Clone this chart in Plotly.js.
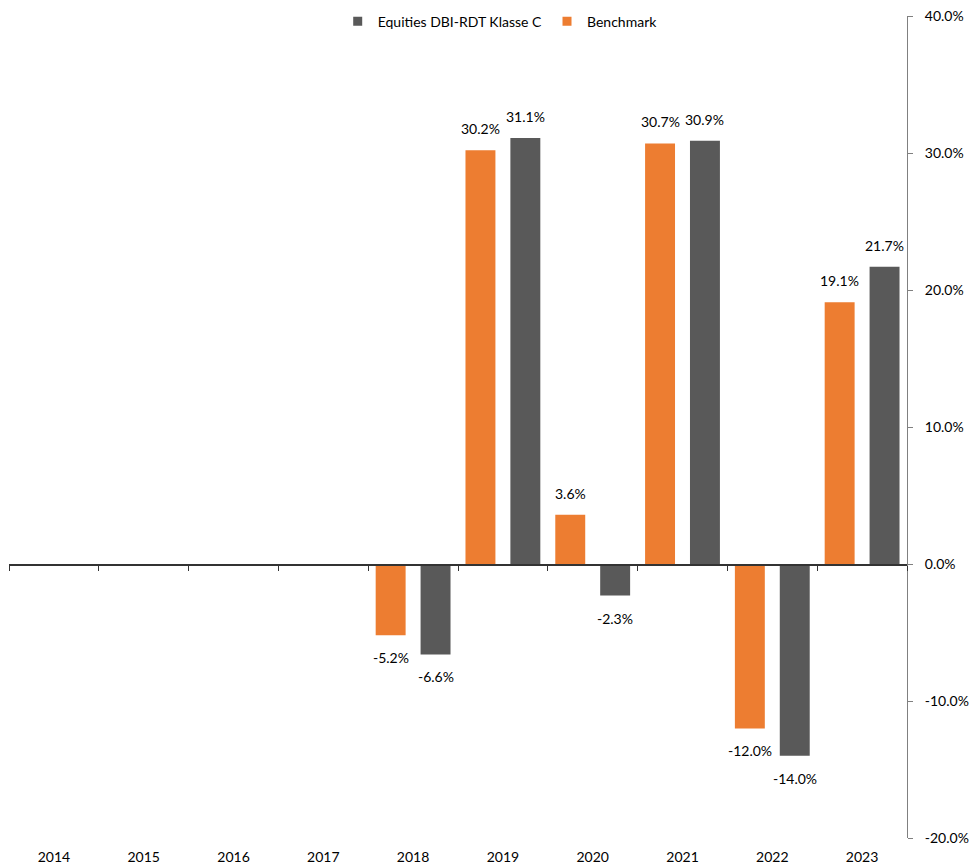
<!DOCTYPE html>
<html>
<head>
<meta charset="utf-8">
<script src="https://cdn.plot.ly/plotly-3.0.1.min.js"></script>
<style>html,body{margin:0;padding:0;background:#fff;}#chart{width:969px;height:867px;}</style>
</head>
<body>
<div id="chart"></div>
<script>
const years = ['2014','2015','2016','2017','2018','2019','2020','2021','2022','2023'];
const fundName = 'Equities DBI-RDT Klasse C';
const benchName = 'Benchmark';
const fundValues = [null, null, null, null, -6.6, 31.1, -2.3, 30.9, -14.0, 21.7];
const benchValues = [null, null, null, null, -5.2, 30.2, 3.6, 30.7, -12.0, 19.1];
const yTicks = [-20, -10, 0, 10, 20, 30, 40];

const benchColor = '#ED7D31';
const fundColor = '#595959';
const font = "Lato, 'Open Sans', 'DejaVu Sans', sans-serif";
const fsize = 14;
const fmt = v => v.toFixed(1) + '%';

const traces = [
  {type: 'bar', name: benchName, x: years, y: benchValues, marker: {color: benchColor},
   showlegend: false, hoverinfo: 'x+y'},
  {type: 'bar', name: fundName, x: years, y: fundValues, marker: {color: fundColor},
   showlegend: false, hoverinfo: 'x+y'},
  // legend entries (small square swatches), fund first
  {type: 'scatter', name: fundName, x: [null], y: [null], mode: 'markers',
   marker: {symbol: 'square', size: 9, color: fundColor}, showlegend: true},
  {type: 'scatter', name: benchName, x: [null], y: [null], mode: 'markers',
   marker: {symbol: 'square', size: 9, color: benchColor}, showlegend: true},
  // invisible trace so that the zero-line axis (x2) is drawn
  {type: 'scatter', x: [years.length - 0.5], y: [0], xaxis: 'x2', yaxis: 'y', mode: 'markers',
   marker: {opacity: 0}, showlegend: false, hoverinfo: 'skip'}
];

// value labels placed above / below each bar of the group (bench left, fund right)
const annotations = [];
function addLabels(values, offset) {
  values.forEach((v, i) => {
    if (v === null) return;
    annotations.push({
      xref: 'x2', yref: 'y', x: i + offset, y: v, text: fmt(v), showarrow: false,
      xanchor: 'center', yanchor: v >= 0 ? 'bottom' : 'top', yshift: v >= 0 ? 11 : -12,
      font: {family: font, size: fsize, color: '#000'}
    });
  });
}
addLabels(benchValues, -0.25);
addLabels(fundValues, 0.25);

const boundaries = years.map((y, i) => i - 0.5).concat([years.length - 0.5]);

const layout = {
  width: 969, height: 867,
  margin: {l: 9, r: 62, t: 16, b: 29, autoexpand: false},
  paper_bgcolor: '#fff', plot_bgcolor: '#fff',
  font: {family: font, size: fsize, color: '#000'},
  barmode: 'group', bargap: 0, bargroupgap: 1/3,
  showlegend: true,
  legend: {orientation: 'h', x: 0.547, xanchor: 'center', y: 1.0125, yanchor: 'top',
           font: {family: font, size: fsize, color: '#000'}, itemwidth: 30, bgcolor: 'rgba(0,0,0,0)'},
  annotations: annotations,
  xaxis: {
    type: 'category', range: [-0.5, years.length - 0.5],
    showline: false, showgrid: false, zeroline: false, ticks: '',
    ticklabelstandoff: 9,
    tickfont: {family: font, size: fsize, color: '#000'}
  },
  xaxis2: {
    overlaying: 'x', anchor: 'free', position: 1/3, side: 'bottom',
    type: 'linear', range: [-0.5, years.length - 0.5],
    showline: true, linecolor: '#333333', linewidth: 1.5,
    showgrid: false, zeroline: false,
    tickmode: 'array', tickvals: boundaries, showticklabels: false,
    ticks: 'outside', ticklen: 5, tickcolor: '#333333', tickwidth: 1
  },
  yaxis: {
    side: 'right', range: [-20, 40], tickvals: yTicks,
    ticktext: yTicks.map(v => v.toFixed(1) + '%'),
    showline: true, linecolor: '#808080', linewidth: 1,
    ticks: 'outside', ticklen: 5, tickcolor: '#808080',
    ticklabelstandoff: 9,
    showgrid: false, zeroline: false,
    tickfont: {family: font, size: fsize, color: '#000'}
  }
};

Plotly.newPlot('chart', traces, layout, {displayModeBar: false, staticPlot: true});
</script>
</body>
</html>
